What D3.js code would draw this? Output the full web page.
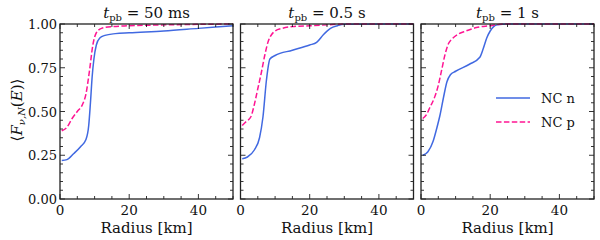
<!DOCTYPE html>
<html>
<head>
<meta charset="utf-8">
<script src="https://cdn.jsdelivr.net/npm/d3@7"></script>
<style>
body{margin:0;background:#fff;}
</style>
</head>
<body>
<svg id="chart" width="600" height="240"></svg>
<script>
// panel titles (time post bounce)
const titles = ["50 ms","0.5 s","1 s"];
const xTicks = [0,20,40];
const yTicks = [0,0.25,0.5,0.75,1.0];
const seriesNames = ["NC n","NC p"];
const colors = ["#4169e1","#ff1493"];

// [radius km, <F>]
const ncN_50ms = [[0.5,0.22],[2,0.225],[4,0.26],[6,0.30],[7.5,0.34],[8.3,0.42],[8.8,0.55],[9.3,0.70],[9.8,0.80],[10.5,0.88],[11.5,0.92],[13,0.935],[16,0.945],[20,0.95],[30,0.96],[40,0.975],[50,0.99]];
const ncP_50ms = [[0.5,0.39],[2,0.41],[3.5,0.46],[5,0.50],[6.5,0.54],[7.5,0.60],[8.5,0.73],[9.5,0.88],[10.5,0.95],[12,0.975],[15,0.985],[20,0.99],[30,0.995],[50,1.0]];
const ncN_05s = [[0.5,0.23],[2,0.24],[4,0.28],[5.5,0.35],[6.5,0.47],[7.5,0.68],[8.5,0.80],[10,0.82],[15,0.85],[20,0.88],[22,0.895],[24,0.94],[26,0.975],[28,0.99],[30,0.998],[50,1.0]];
const ncP_05s = [[0.5,0.42],[1.5,0.44],[3,0.47],[4,0.54],[5,0.63],[6,0.72],[7,0.82],[8,0.90],[9,0.94],[10,0.96],[12,0.975],[15,0.985],[20,0.99],[25,0.995],[30,1.0],[50,1.0]];
const ncN_1s = [[0.5,0.25],[2,0.27],[3.5,0.33],[4.5,0.40],[5.5,0.48],[6.5,0.58],[7.5,0.67],[8.5,0.71],[10,0.73],[14,0.77],[17,0.81],[18,0.86],[19,0.92],[20,0.96],[21,0.985],[22,0.995],[25,1.0],[50,1.0]];
const ncP_1s = [[0.5,0.46],[1.5,0.48],[2.5,0.52],[4,0.585],[5,0.65],[6,0.74],[7,0.83],[8,0.89],[9,0.915],[11,0.945],[13,0.96],[16,0.98],[20,0.99],[24,1.0],[50,1.0]];

const panelData = [[ncN_50ms,ncP_50ms],[ncN_05s,ncP_05s],[ncN_1s,ncP_1s]];

const FONT = "'DejaVu Serif', serif";
const svg = d3.select("#chart");
const panelLeft = [60,240.5,421];
const panelW = 173;
const plotTop = 24, plotBottom = 199;

const y = d3.scaleLinear().domain([0,1]).range([plotBottom,plotTop]);

function addText(sel){
	return sel.append("text").style("font-family",FONT).attr("fill","#111");
}

for(var i = 0; i < 3; i++){
	var x = d3.scaleLinear().domain([0,50]).range([panelLeft[i],panelLeft[i]+panelW]);
	var g = svg.append("g");

	var line = d3.line()
		.x(function(d){return x(d[0]);})
		.y(function(d){return y(d[1]);})
		.curve(d3.curveMonotoneX);

	var clipId = "clip"+i;
	svg.append("clipPath").attr("id",clipId)
		.append("rect").attr("x",panelLeft[i]).attr("y",plotTop-2).attr("width",panelW).attr("height",plotBottom-plotTop+2);

	for(var s = 0; s < 2; s++){
		g.append("path")
			.datum(panelData[i][s])
			.attr("clip-path","url(#"+clipId+")")
			.attr("d",line)
			.attr("fill","none")
			.attr("stroke",colors[s])
			.attr("stroke-width",1.5)
			.attr("stroke-dasharray", s==1 ? "5.5,2.4" : null);
	}

	// ticks inward, all four sides
	var minorX = d3.range(0,51,5);
	var minorY = d3.range(0,1.001,0.05);
	minorX.forEach(function(v){
		var len = (v%20==0) ? 5 : 3;
		g.append("line").attr("x1",x(v)).attr("x2",x(v)).attr("y1",plotBottom).attr("y2",plotBottom-len).attr("stroke","#000").attr("stroke-width",0.8);
		g.append("line").attr("x1",x(v)).attr("x2",x(v)).attr("y1",plotTop).attr("y2",plotTop+len).attr("stroke","#000").attr("stroke-width",0.8);
	});
	minorY.forEach(function(v){
		var major = Math.abs(v*4-Math.round(v*4))<1e-6;
		var len = major ? 5 : 3;
		g.append("line").attr("x1",x(0)).attr("x2",x(0)+len).attr("y1",y(v)).attr("y2",y(v)).attr("stroke","#000").attr("stroke-width",0.8);
		g.append("line").attr("x1",x(50)).attr("x2",x(50)-len).attr("y1",y(v)).attr("y2",y(v)).attr("stroke","#000").attr("stroke-width",0.8);
	});

	g.append("rect")
		.attr("x",panelLeft[i]).attr("y",plotTop)
		.attr("width",panelW).attr("height",plotBottom-plotTop)
		.attr("fill","none").attr("stroke","#222").attr("stroke-width",1.3);

	xTicks.forEach(function(v){
		addText(g).attr("x",x(v)).attr("y",215)
			.attr("text-anchor","middle").style("font-size","13.5px").text(v);
	});
	addText(g).attr("x",panelLeft[i]+panelW/2).attr("y",233)
		.attr("text-anchor","middle").style("font-size","15px").text("Radius [km]");

	var t = addText(g).attr("x",panelLeft[i]+panelW/2).attr("y",18)
		.attr("text-anchor","middle").style("font-size","15px");
	t.append("tspan").style("font-style","italic").text("t");
	t.append("tspan").attr("dy",3).style("font-size","10px").text("pb");
	t.append("tspan").attr("dy",-3).text(" = "+titles[i]);

	if(i==0){
		yTicks.forEach(function(v){
			addText(g).attr("x",57).attr("y",y(v)+5)
				.attr("text-anchor","end").style("font-size","13px").text(v.toFixed(2));
		});
	}
}

// y label
var yl = addText(svg)
	.attr("transform","translate(22,110) rotate(-90)")
	.attr("text-anchor","middle").style("font-size","15px");
yl.append("tspan").text("\u27E8");
yl.append("tspan").style("font-style","italic").text("F");
yl.append("tspan").attr("dy",3).style("font-size","10px").style("font-style","italic").text("\u03BD,N");
yl.append("tspan").attr("dy",-3).text("(");
yl.append("tspan").style("font-style","italic").text("E");
yl.append("tspan").text(")\u27E9");

// legend
var leg = svg.append("g");
seriesNames.forEach(function(name,k){
	var ly = 98 + k*24;
	leg.append("line").attr("x1",496).attr("x2",530).attr("y1",ly).attr("y2",ly)
		.attr("stroke",colors[k]).attr("stroke-width",1.5)
		.attr("stroke-dasharray", k==1 ? "5.5,2.4" : null);
	addText(leg).attr("x",541).attr("y",ly+5).style("font-size","13px").text(name);
});
</script>
</body>
</html>
